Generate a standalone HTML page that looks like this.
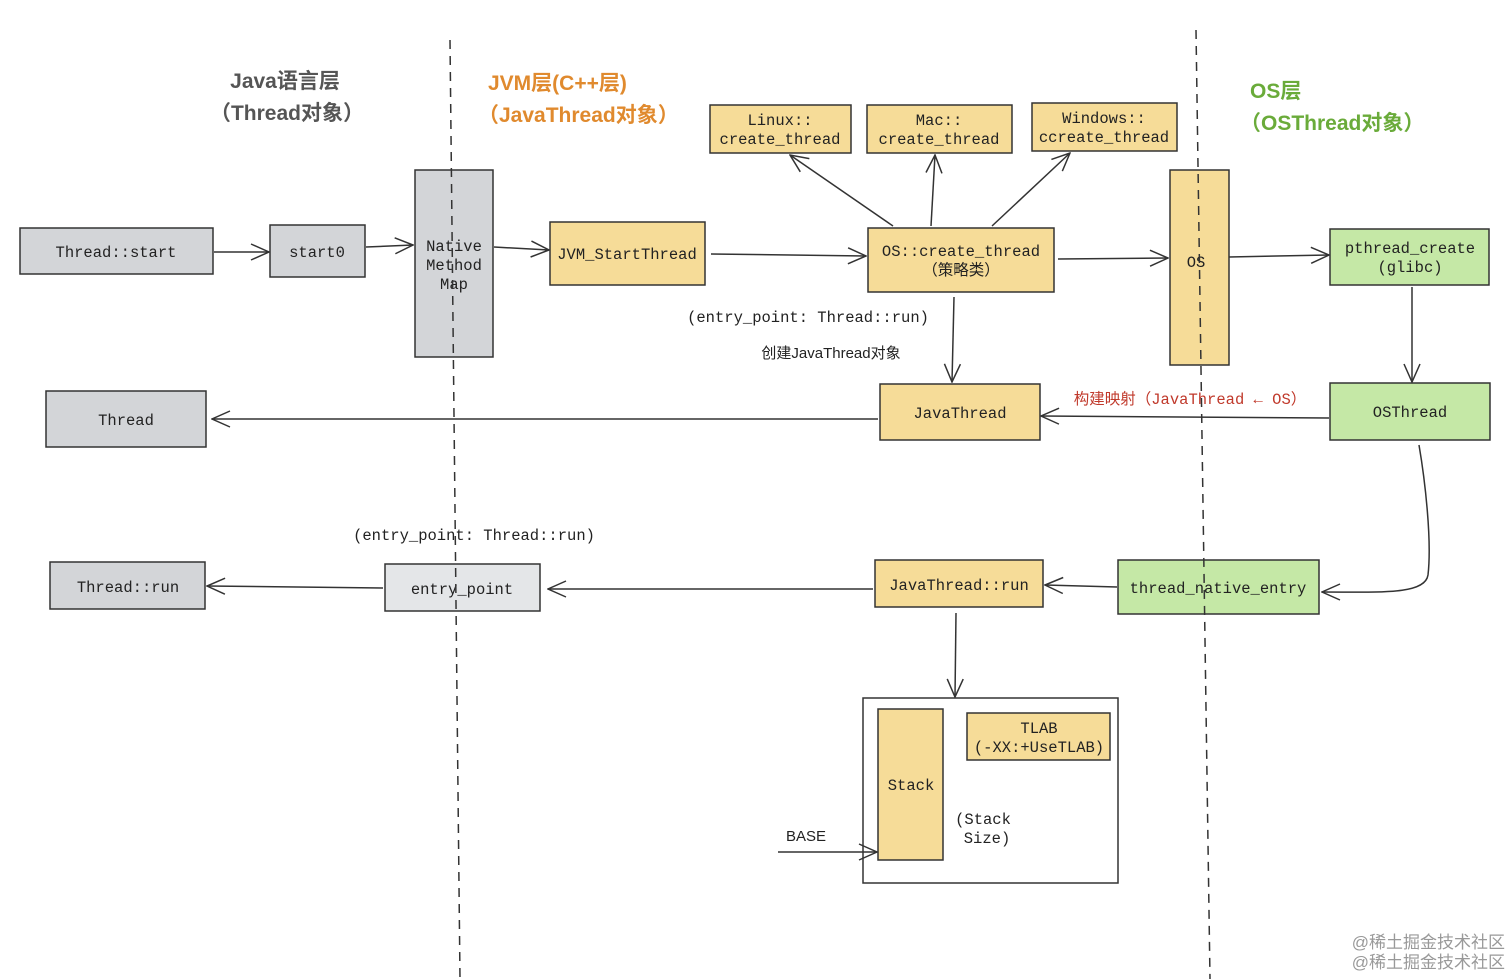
<!DOCTYPE html>
<html><head><meta charset="utf-8"><style>
html,body{margin:0;padding:0;background:#fff;}
svg{display:block;}
text{font-family:"Liberation Mono","Noto Sans CJK SC",monospace;font-size:15.5px;fill:#222;}
.t{font-family:"Liberation Sans","Noto Sans CJK SC",sans-serif;font-size:21px;font-weight:bold;}
.y{fill:#f6dc98;stroke:#333;stroke-width:1.5;}
.g{fill:#d3d5d8;stroke:#333;stroke-width:1.5;}
.gr{fill:#c5e8a6;stroke:#333;stroke-width:1.5;}
.l{stroke:#333;stroke-width:1.5;fill:none;}
</style></head><body>
<svg width="1512" height="979" viewBox="0 0 1512 979" xmlns="http://www.w3.org/2000/svg">
<defs>
<marker id="a" viewBox="0 0 20 20" refX="19" refY="10" markerWidth="20" markerHeight="20" markerUnits="userSpaceOnUse" orient="auto">
<path d="M1 2 L19 10 L1 18" fill="none" stroke="#333" stroke-width="1.5"/></marker>
</defs>
<!-- titles -->
<text class="t" x="285" y="88" text-anchor="middle" style="fill:#555">Java语言层</text>
<text class="t" x="287" y="120" text-anchor="middle" style="fill:#555">（Thread对象）</text>
<text class="t" x="488" y="90" style="fill:#e08a2e">JVM层(C++层)</text>
<text class="t" x="478" y="122" style="fill:#e08a2e">（JavaThread对象）</text>
<text class="t" x="1250" y="98" style="fill:#6aab3a">OS层</text>
<text class="t" x="1240" y="130" style="fill:#6aab3a">（OSThread对象）</text>
<!-- boxes -->
<rect class="g" x="20" y="228" width="193" height="46"/><text x="116" y="257" text-anchor="middle">Thread::start</text>
<rect class="g" x="270" y="225" width="95" height="52"/><text x="317" y="257" text-anchor="middle">start0</text>
<rect class="g" x="415" y="170" width="78" height="187"/>
<text x="454" y="251" text-anchor="middle">Native</text><text x="454" y="270" text-anchor="middle">Method</text><text x="454" y="289" text-anchor="middle">Map</text>
<rect class="y" x="550" y="222" width="155" height="63"/><text x="627" y="259" text-anchor="middle">JVM_StartThread</text>
<rect class="y" x="868" y="228" width="186" height="64"/><text x="961" y="256" text-anchor="middle">OS::create_thread</text><text x="961" y="275" text-anchor="middle">（策略类）</text>
<rect class="y" x="710" y="105" width="141" height="48"/><text x="780" y="125" text-anchor="middle">Linux::</text><text x="780" y="144" text-anchor="middle">create_thread</text>
<rect class="y" x="867" y="105" width="145" height="48"/><text x="939" y="125" text-anchor="middle">Mac::</text><text x="939" y="144" text-anchor="middle">create_thread</text>
<rect class="y" x="1032" y="103" width="145" height="48"/><text x="1104" y="123" text-anchor="middle">Windows::</text><text x="1104" y="142" text-anchor="middle">ccreate_thread</text>
<rect class="y" x="1170" y="170" width="59" height="195"/><text x="1196" y="267" text-anchor="middle">OS</text>
<rect class="gr" x="1330" y="229" width="159" height="56"/><text x="1410" y="253" text-anchor="middle">pthread_create</text><text x="1410" y="272" text-anchor="middle">(glibc)</text>
<rect class="gr" x="1330" y="383" width="160" height="57"/><text x="1410" y="417" text-anchor="middle">OSThread</text>
<rect class="y" x="880" y="384" width="160" height="56"/><text x="960" y="418" text-anchor="middle">JavaThread</text>
<rect class="g" x="46" y="391" width="160" height="56"/><text x="126" y="425" text-anchor="middle">Thread</text>
<rect class="g" x="50" y="562" width="155" height="47"/><text x="128" y="592" text-anchor="middle">Thread::run</text>
<rect class="g" x="385" y="564" width="155" height="47" style="fill:#e4e6e8"/><text x="462" y="594" text-anchor="middle">entry_point</text>
<rect class="y" x="875" y="560" width="168" height="47"/><text x="959" y="590" text-anchor="middle">JavaThread::run</text>
<rect class="gr" x="1118" y="560" width="201" height="54"/><text x="1218" y="593" text-anchor="middle">thread_native_entry</text>
<rect x="863" y="698" width="255" height="185" fill="none" stroke="#333" stroke-width="1.5"/>
<rect class="y" x="878" y="709" width="65" height="151"/><text x="911" y="790" text-anchor="middle">Stack</text>
<rect class="y" x="967" y="713" width="143" height="47"/><text x="1039" y="733" text-anchor="middle">TLAB</text><text x="1039" y="752" text-anchor="middle">(-XX:+UseTLAB)</text>
<text x="983" y="824" text-anchor="middle">(Stack</text><text x="987" y="843" text-anchor="middle">Size)</text>
<text x="786" y="841" style="font-family:'Liberation Sans',sans-serif;font-size:15px">BASE</text>
<!-- labels -->
<text x="808" y="322" text-anchor="middle">(entry_point: Thread::run)</text>
<text x="831" y="358" text-anchor="middle" style="font-family:'Liberation Sans','Noto Sans CJK SC',sans-serif;font-size:15px">创建JavaThread对象</text>
<text x="1190" y="404" text-anchor="middle" style="fill:#c0392b">构建映射（JavaThread ← OS）</text>
<text x="474" y="540" text-anchor="middle">(entry_point: Thread::run)</text>
<text x="1505" y="948" text-anchor="end" style="font-family:'Liberation Sans','Noto Sans CJK SC',sans-serif;font-size:17px;fill:#999">@稀土掘金技术社区</text>
<text x="1505" y="968" text-anchor="end" style="font-family:'Liberation Sans','Noto Sans CJK SC',sans-serif;font-size:17px;fill:#999">@稀土掘金技术社区</text>
<!-- connectors -->
<g marker-end="url(#a)">
<line class="l" x1="214" y1="252" x2="269" y2="252"/>
<line class="l" x1="366" y1="247" x2="413" y2="245"/>
<line class="l" x1="494" y1="247" x2="549" y2="250"/>
<line class="l" x1="711" y1="254" x2="866" y2="256"/>
<line class="l" x1="893" y1="226" x2="790" y2="155"/>
<line class="l" x1="931" y1="226" x2="935" y2="155"/>
<line class="l" x1="992" y1="226" x2="1070" y2="153"/>
<line class="l" x1="1058" y1="259" x2="1168" y2="258"/>
<line class="l" x1="1229" y1="257" x2="1329" y2="255"/>
<line class="l" x1="954" y1="297" x2="952" y2="382"/>
<line class="l" x1="1412" y1="287" x2="1412" y2="382"/>
<line class="l" x1="1329" y1="418" x2="1041" y2="416"/>
<line class="l" x1="878" y1="419" x2="212" y2="419"/>
<path class="l" d="M1419 445 C1425 480 1432 540 1428 575 C1425 595 1380 592 1322 592"/>
<line class="l" x1="1117" y1="587" x2="1045" y2="585"/>
<line class="l" x1="873" y1="589" x2="548" y2="589"/>
<line class="l" x1="383" y1="588" x2="207" y2="586"/>
<line class="l" x1="956" y1="613" x2="955" y2="697"/>
<line class="l" x1="778" y1="852" x2="877" y2="852"/>
</g>
<!-- dashed separators on top -->
<line x1="450" y1="40" x2="460" y2="979" stroke="#333" stroke-width="1.5" stroke-dasharray="9,7"/>
<line x1="1196" y1="30" x2="1210" y2="979" stroke="#333" stroke-width="1.5" stroke-dasharray="9,7"/>
</svg>
</body></html>
